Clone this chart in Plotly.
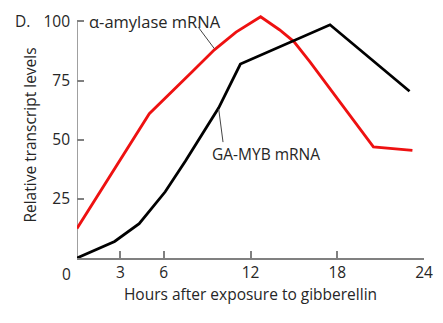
import plotly.graph_objects as go

# Data
amylase_hours = [0, 5.0, 8.0, 9.5, 11.0, 12.7, 14.0, 15.0, 16.1, 17.8, 20.5, 23.2]
amylase_levels = [12.5, 61, 79, 88, 95.5, 102, 96.5, 91.5, 83, 69, 47, 45.5]

myb_hours = [0, 2.6, 4.3, 6.1, 7.5, 8.4, 9.8, 11.3, 17.5, 23.0]
myb_levels = [0, 7, 14.5, 28, 41, 50, 63.5, 82, 98.6, 70.5]

x_ticks = [3, 6, 12, 18, 24]
y_ticks = [25, 50, 75, 100]

FONT = "Open Sans"
TXT = "#262626"
AXC = "#808080"
FS = 15.5

fig = go.Figure()
fig.add_trace(go.Scatter(x=amylase_hours, y=amylase_levels, mode="lines",
                         line=dict(color="#ee1111", width=2.8), showlegend=False))
fig.add_trace(go.Scatter(x=myb_hours, y=myb_levels, mode="lines",
                         line=dict(color="black", width=2.8), showlegend=False))

# y axis line from 0 to 100
fig.add_shape(type="line", x0=0, x1=0, y0=0, y1=100, xref="x", yref="y",
              line=dict(color=AXC, width=1.5), layer="below")

# leader lines
fig.add_shape(type="line", x0=8.4, y0=97.5, x1=9.5, y1=88.5, xref="x", yref="y",
              line=dict(color="#444", width=1))
fig.add_shape(type="line", x0=9.8, y0=63, x1=10.1, y1=49, xref="x", yref="y",
              line=dict(color="#444", width=1))

fig.add_annotation(x=0, y=100, text="α-amylase mRNA", showarrow=False,
                   xanchor="left", yanchor="middle", xshift=10, yshift=0,
                   font=dict(size=16.5, color=TXT, family=FONT))
fig.add_annotation(x=9.2, y=44, text="GA-MYB mRNA", showarrow=False,
                   xanchor="left", yanchor="middle", font=dict(size=FS, color=TXT, family=FONT))
fig.add_annotation(x=0, y=0, text="0", showarrow=False, xanchor="center", yanchor="top",
                   xshift=-11, yshift=-3, font=dict(size=FS, color=TXT, family=FONT))
fig.add_annotation(x=0, y=100, text="D.", showarrow=False,
                   xanchor="left", yanchor="middle", xshift=-64,
                   font=dict(size=FS, color=TXT, family=FONT))

fig.update_layout(
    width=443, height=323,
    margin=dict(l=77, r=15, t=10, b=65),
    plot_bgcolor="white", paper_bgcolor="white",
    font=dict(family=FONT, size=FS, color=TXT),
    xaxis=dict(range=[0, 24], tickvals=x_ticks, ticks="inside", ticklen=7,
               tickcolor=AXC, tickwidth=1.5, showline=True, linecolor=AXC, linewidth=1.5,
               showgrid=False, zeroline=False, tickfont=dict(size=FS),
               title=dict(text="Hours after exposure to gibberellin", standoff=6,
                          font=dict(size=FS, color=TXT, family=FONT))),
    yaxis=dict(range=[0, 104], tickvals=y_ticks, ticks="inside", ticklen=7,
               tickcolor=AXC, tickwidth=1.5, showline=False, ticklabelstandoff=6,
               showgrid=False, zeroline=False, tickfont=dict(size=FS),
               title=dict(text="Relative transcript levels", standoff=2,
                          font=dict(size=FS, color=TXT, family=FONT))),
)
fig.write_html("out.html")
